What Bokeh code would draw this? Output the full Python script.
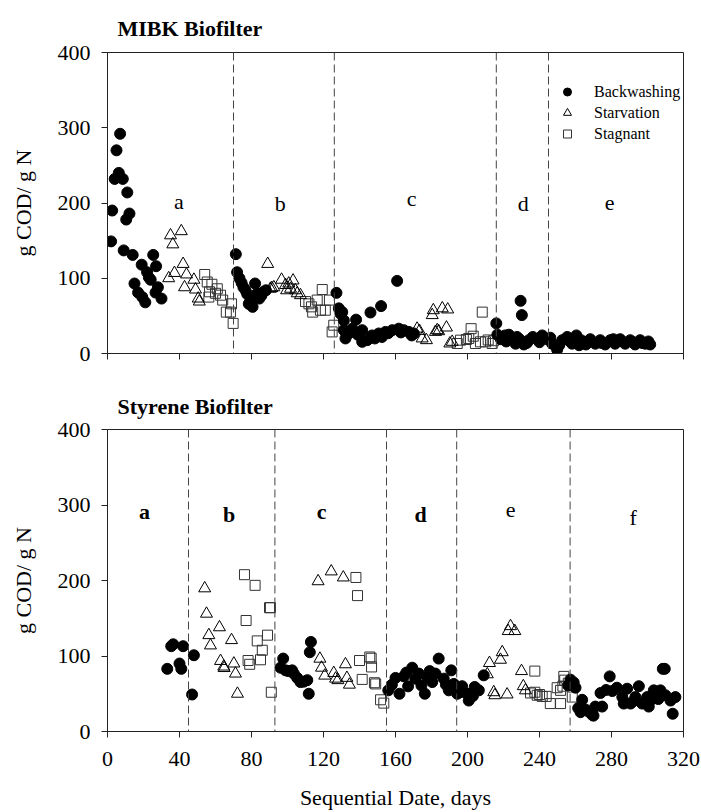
from bokeh.plotting import figure
from bokeh.models import Range1d, FixedTicker, Span, Legend, LegendItem, ColumnDataSource
from bokeh.layouts import column
from bokeh.core.properties import value
from bokeh.embed import file_html
from bokeh.resources import INLINE

FONT = "'Liberation Serif'"

x_ticks = [0, 40, 80, 120, 160, 200, 240, 280, 320]
y_ticks = [0, 100, 200, 300, 400]

# ---------------- MIBK biofilter ----------------
mibk_bw_day = [7.0, 5.0, 6.3, 4.0, 8.5, 11.0, 2.6, 12.2, 10.4, 2.0, 9.0, 14.0, 25.4, 19.0, 27.0, 22.0, 23.0, 24.0,
               15.0, 28.0, 17.0, 26.7, 19.3, 30.0, 21.0,
               71.3, 72.0, 73.3, 74.5, 75.5, 76.7, 77.6, 78.5, 79.5, 80.6, 82.0, 83.2, 84.3, 85.5, 86.7, 88.0,
               127.2, 128.5, 129.4, 131.3, 138.1, 146.1, 152.0, 160.9, 131.3, 134.0, 136.0, 132.2, 141.5, 141.5,
               144.3, 147.0, 150.7, 154.4, 158.2, 161.8, 164.6, 167.4, 170.2, 130.4, 139.0, 152.5, 156.0, 163.0,
               169.0, 148.5,
               216.0, 229.5, 230.2, 216.6, 218.5, 220.9, 223.0, 224.8, 226.7, 228.9, 231.3, 234.1, 236.3, 238.7,
               241.5, 244.3, 247.0, 249.8, 252.6, 255.4, 258.1, 260.5, 263.1, 265.8, 268.2, 271.0, 273.7, 276.5,
               279.3, 282.0, 284.8, 287.6, 290.4, 293.1, 295.9, 298.7, 301.5, 221.5, 227.5, 233.0, 240.0, 246.0,
               251.0, 257.0, 262.0, 267.0, 274.5, 281.0, 286.0, 292.0, 297.0, 300.5]
mibk_bw_val = [292, 270, 240, 232, 232, 214, 190, 186, 178, 149, 137, 131, 131, 118, 116, 108, 101, 98,
               93, 88, 81, 81, 75, 73, 68,
               132, 108, 100, 94, 88, 84, 79, 66, 71, 62, 93, 80, 73, 77, 82, 84,
               80.6, 60, 53, 44, 45, 54.5, 63, 96.5, 31, 26.6, 33, 20, 31, 15.5,
               17.7, 24, 26.6, 28.7, 31, 33, 31, 28.7, 26.6, 55, 25, 22, 27, 28,
               24, 20,
               40, 70, 51, 25, 19, 24, 25, 19, 13, 19, 12, 17.7, 22, 19,
               24, 19, 13, 5, 17.7, 22, 13, 24, 17.7, 12, 19, 13, 17.7, 12,
               17.7, 13, 19, 13, 17.7, 12, 17.7, 13, 12, 16, 22, 14, 15, 21,
               11, 16, 11, 15, 14, 19, 16, 15, 14, 16]

mibk_sv_day = [35.0, 41.0, 36.3, 34.0, 37.2, 42.0, 43.9, 42.8, 48.0, 48.9, 50.4, 51.0,
               89.0, 90.5, 92.4, 96.7, 98.9, 100.7, 103.1, 101.7, 104.4, 105.4, 107.2, 91.3, 99.5,
               173.3, 174.8, 177.2, 181.0, 180.4, 186.0, 189.0, 182.2, 184.0, 188.3, 190.2, 183.2, 191.5, 172.0]
mibk_sv_val = [157, 162.5, 145, 100, 107, 119, 105, 88, 98, 85, 73, 69,
               119, 86, 88, 98, 91, 93, 97, 86, 84, 80, 77.5, 87, 84,
               30, 20, 17.7, 57.5, 51, 60, 58.5, 28.7, 29.6, 34.5, 13.3, 31, 15.5, 33]

mibk_sg_day = [54.0, 55.4, 58.0, 56.7, 61.0, 56.3, 62.8, 64.0, 66.0, 68.9, 68.3, 69.8, 60.0,
               110.0, 111.9, 113.3, 116.5, 119.3, 114.0, 118.3, 121.0, 123.3, 125.7, 124.8,
               208.2, 202.0, 194.3, 196.1, 199.4, 203.2, 204.4, 207.2, 210.0, 213.7, 200.7, 211.5, 214.5]
mibk_sg_val = [105, 95, 92, 82, 86, 75, 77.5, 71, 55, 66, 55, 40, 80,
               69, 66, 62, 71, 85, 55, 57.5, 57.5, 71, 37.6, 28.7,
               55, 33, 13.3, 17.7, 18.6, 23, 13.3, 15.5, 15.5, 13.3, 20, 18, 17]

mibk_lines = [70, 126, 216, 245]
mibk_phase = ["a", "b", "c", "d", "e"]
mibk_phase_x = [39.6, 96, 169, 231, 279]
mibk_phase_y = [202, 200, 206, 200, 200]

# ---------------- Styrene biofilter ----------------
sty_bw_day = [35.4, 36.5, 42.0, 48.0, 33.2, 40.0, 41.0, 47.0,
              96.1, 97.6, 98.9, 102.6, 103.5, 105.4, 107.2, 111.0, 113.0, 112.4, 111.8, 100.5, 109.0,
              156.0, 160.0, 162.2, 164.6, 167.0, 169.3, 171.0, 173.0, 174.4, 176.3, 177.6, 180.4, 182.2, 184.0,
              186.8, 189.6, 191.0, 192.4, 194.3, 197.0, 199.8, 200.7, 204.0, 206.3, 209.0, 158.0, 166.0, 179.0,
              188.0, 196.0, 203.0,
              256.0, 257.2, 259.0, 260.0,
              263.7, 265.6, 261.5, 269.3, 274.8, 271.0, 273.9, 279.0, 277.0, 280.4, 283.0, 286.0, 288.7, 286.8,
              290.6, 295.2, 293.3, 297.0, 300.7, 299.8, 303.5, 306.0, 309.6, 307.2, 310.0, 312.8, 314.0, 315.5,
              262.8, 270.0, 267.5, 308.5, 292.0, 302.0]
sty_bw_val = [113, 115.5, 113, 101, 83, 90, 83, 49,
              84.5, 96.6, 81, 81, 76.7, 71, 65.5, 68, 118.6, 105, 50, 80, 66,
              54.5, 71, 50, 73, 59.8, 84.5, 70, 76.7, 61, 50, 72, 65.5, 76.7, 96.6,
              70, 54.5, 81, 63, 50, 60, 50, 41, 59, 54.5, 74.4, 62, 78, 80,
              62, 52, 47,
              61, 68.7, 65, 58,
              42, 29, 31, 22, 33, 33, 51, 73, 55, 53.6, 58, 45.6, 56.7, 37,
              37, 60, 45.6, 37, 33, 45.6, 54.5, 43, 83, 54.5, 48, 41, 23.5, 45.6,
              25.6, 21, 26, 83, 40, 42]

sty_sv_day = [54.0, 55.0, 62.2, 56.3, 57.2, 68.9, 62.8, 64.6, 70.2, 71.1, 72.2, 64.8,
              117.0, 124.3, 131.0, 118.0, 118.9, 120.7, 125.7, 126.7, 128.0, 132.2, 133.0, 134.4,
              223.9, 226.3, 222.6, 219.3, 218.3, 212.2, 211.0, 214.6, 215.2, 222.0, 230.0, 231.0, 232.2]
sty_sv_val = [189.6, 156, 138, 127.6, 114, 121, 93.4, 86, 90, 76.7, 50, 84,
              199, 212, 204, 96.4, 84.5, 74, 77.5, 70, 68, 89, 71, 62,
              139.5, 133, 133, 105, 95, 90.7, 75.7, 52, 48, 49, 80, 60, 54.5]

sty_sg_day = [76.1, 82.0, 90.0, 77.0, 83.2, 88.9, 86.0, 78.1, 79.0, 85.0, 91.0, 90.5,
              138.0, 138.9, 140.0, 145.7, 146.7, 141.5, 148.3, 151.7, 153.5, 146.5, 149.0,
              237.4, 235.0, 237.4, 238.7, 241.5, 243.7, 246.0, 251.7, 249.8, 251.7, 253.5, 254.0, 253.0, 256.0,
              258.2, 240.0]
sty_sg_val = [207.7, 193.6, 164, 147, 120, 127.6, 107.6, 94, 89, 95, 52, 164,
              204, 180, 94, 98.7, 85.5, 69, 64.6, 42, 37.6, 97, 63,
              80, 51, 52, 48, 46.5, 46.5, 37, 37, 58, 54.5, 73, 68, 60, 64,
              45.6, 49]

sty_lines = [45, 93, 155, 194, 257]
sty_phase = ["a", "b", "c", "d", "e", "f"]
sty_phase_x = [20.5, 67.6, 119, 174, 224, 292]
sty_phase_y = [291, 288, 291.6, 288, 293.5, 283]
sty_phase_style = ["bold", "bold", "bold", "bold", "normal", "normal"]

legend_labels = ["Backwashing", "Starvation", "Stagnant"]


def make_fig(height, top, bottom, title):
    p = figure(width=701, height=height, output_backend="svg", toolbar_location=None,
               x_range=Range1d(0, 320), y_range=Range1d(0, 400),
               min_border_left=107, min_border_right=18, min_border_top=top, min_border_bottom=bottom)
    p.grid.visible = False
    p.outline_line_color = "#222222"
    p.outline_line_width = 1
    p.background_fill_color = "white"
    p.border_fill_color = "white"
    p.title.text = title
    p.title.text_font = FONT
    p.title.text_font_size = "22px"
    p.title.text_font_style = "bold"
    p.title.text_color = "black"
    p.title.align = "left"
    p.title.offset = 10
    p.title.standoff = 24
    for ax in (p.xaxis[0], p.yaxis[0]):
        ax.axis_line_color = "#222222"
        ax.major_tick_line_color = "#222222"
        ax.major_tick_out = 6
        ax.major_tick_in = 0
        ax.minor_tick_line_color = None
        ax.major_label_text_font = FONT
        ax.major_label_text_font_size = "22px"
        ax.major_label_text_color = "black"
        ax.major_label_standoff = 11
        ax.axis_label_text_font = FONT
        ax.axis_label_text_font_size = "22px"
        ax.axis_label_text_font_style = "normal"
        ax.axis_label_text_color = "black"
    p.xaxis.ticker = FixedTicker(ticks=x_ticks)
    p.yaxis.ticker = FixedTicker(ticks=y_ticks)
    p.yaxis.axis_label = "g COD/ g N"
    p.yaxis.axis_label_standoff = 19
    return p


def add_points(p, bw_d, bw_v, sv_d, sv_v, sg_d, sg_v):
    r_sg = p.scatter(sg_d, sg_v, marker="square", size=10, fill_color=None, line_color="#333333", line_width=1)
    r_sv = p.scatter(sv_d, sv_v, marker="triangle", size=12, fill_color=None, line_color="black", line_width=1)
    r_bw = p.scatter(bw_d, bw_v, marker="circle", size=11, fill_color="black", line_color="black")
    return r_bw, r_sv, r_sg


# top panel
p1 = make_fig(380, 52, 27, "MIBK Biofilter")
p1.xaxis.major_label_text_font_size = "1px"
p1.xaxis.major_label_text_alpha = 0
p1.xaxis.major_label_standoff = 0
for loc in mibk_lines:
    p1.add_layout(Span(location=loc, dimension="height", line_color="#444444", line_dash="8 4", line_width=1))
r_bw, r_sv, r_sg = add_points(p1, mibk_bw_day, mibk_bw_val, mibk_sv_day, mibk_sv_val, mibk_sg_day, mibk_sg_val)
p1.text(x=mibk_phase_x, y=mibk_phase_y, text=mibk_phase, text_font=value(FONT), text_font_size="22px",
        text_align="center", text_baseline="middle", text_color="black")
legend = Legend(items=[LegendItem(label=legend_labels[0], renderers=[r_bw]),
                       LegendItem(label=legend_labels[1], renderers=[r_sv]),
                       LegendItem(label=legend_labels[2], renderers=[r_sg])],
                location=(450, 209), padding=0, margin=0, spacing=0,
                glyph_width=20, glyph_height=21, label_height=21, label_standoff=17,
                label_text_font=FONT, label_text_font_size="16px", label_text_color="black",
                border_line_color=None, background_fill_alpha=0)
p1.add_layout(legend, "center")

# bottom panel
p2 = make_fig(432, 49, 81, "Styrene Biofilter")
p2.title.standoff = 22
p2.xaxis.axis_label = "Sequential Date, days"
p2.xaxis.major_label_standoff = 14
p2.xaxis.axis_label_standoff = 16
for loc in sty_lines:
    p2.add_layout(Span(location=loc, dimension="height", line_color="#444444", line_dash="8 4", line_width=1))
add_points(p2, sty_bw_day, sty_bw_val, sty_sv_day, sty_sv_val, sty_sg_day, sty_sg_val)
src = ColumnDataSource(dict(x=sty_phase_x, y=sty_phase_y, t=sty_phase, s=sty_phase_style))
p2.text(x="x", y="y", text="t", text_font_style="s", source=src, text_font=value(FONT), text_font_size="22px",
        text_align="center", text_baseline="middle", text_color="black")

layout = column(p1, p2)
open("out.html", "w").write(file_html(layout, INLINE))
